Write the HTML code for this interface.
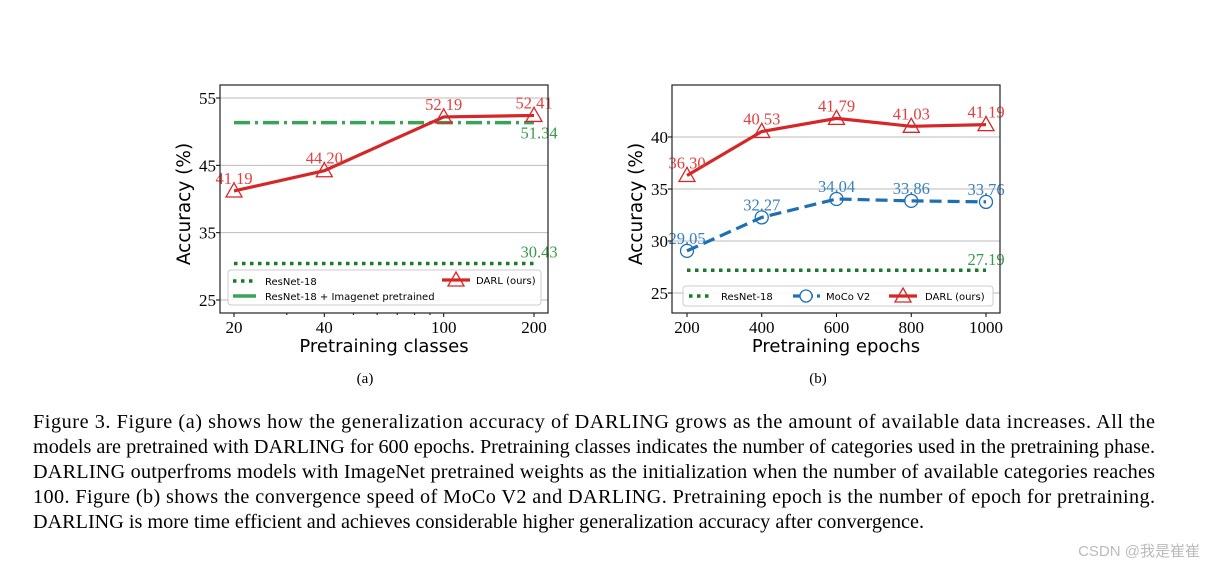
<!DOCTYPE html>
<html><head><meta charset="utf-8"><style>
body{margin:0;background:#fff;width:1214px;height:567px;overflow:hidden}
svg{display:block}
</style></head><body>
<svg id="s" width="1214" height="567" xmlns="http://www.w3.org/2000/svg" font-family="Liberation Serif, serif">
<g id="ca"></g>
<g id="cb"></g>
<text x="365" y="383" font-size="15" text-anchor="middle">(a)</text>
<text x="818" y="383" font-size="15" text-anchor="middle">(b)</text>
<g font-size="20.2">
<text x="33" y="428" textLength="1122" lengthAdjust="spacing">Figure 3.  Figure (a) shows how the generalization accuracy of DARLING grows as the amount of available data increases.  All the</text>
<text x="33" y="453" textLength="1122" lengthAdjust="spacing">models are pretrained with DARLING for 600 epochs. Pretraining classes indicates the number of categories used in the pretraining phase.</text>
<text x="33" y="478" textLength="1122" lengthAdjust="spacing">DARLING outperfroms models with ImageNet pretrained weights as the initialization when the number of available categories reaches</text>
<text x="33" y="503" textLength="1122" lengthAdjust="spacing">100.  Figure (b) shows the convergence speed of MoCo V2 and DARLING. Pretraining epoch is the number of epoch for pretraining.</text>
<text x="33" y="528">DARLING is more time efficient and achieves considerable higher generalization accuracy after convergence.</text>
</g>
<text x="1200" y="556" font-size="15" fill="#bbb" text-anchor="end" font-family="Liberation Sans, Noto Sans CJK SC, sans-serif">CSDN @我是崔崔</text>
</svg>
<script>
// Chart A data
const aClasses=[20,40,100,200];
const aDarl=[41.19,44.20,52.19,52.41];
const aResnet=30.43;
const aImagenet=51.34;
const aTicksY=[25,35,45,55];
// Chart B data
const bEpochs=[200,400,600,800,1000];
const bDarl=[36.30,40.53,41.79,41.03,41.19];
const bMoco=[29.05,32.27,34.04,33.86,33.76];
const bResnet=27.19;
const bTicksY=[25,30,35,40];

const NS='http://www.w3.org/2000/svg';
function mk(p,t,a){const e=document.createElementNS(NS,t);for(const k in a)e.setAttribute(k,a[k]);p.appendChild(e);return e;}
function txt(p,x,y,s,a){const e=mk(p,'text',Object.assign({x:x,y:y},a));e.textContent=s;return e;}
const RED='#d62728',GREEN='#2ca02c',DG='#1a7a2a',BLUE='#1f6fb4';
const LBL=16.5;
function tri(g,x,y){return mk(g,'path',{d:`M${x},${y-8} L${x+8},${y+6} L${x-8},${y+6} Z`,fill:'none',stroke:RED,'stroke-width':1.3});}

// ---------- Chart A ----------
(function(){
const g=document.getElementById('ca');
const L=220,R=548,T=85,B=313;
const y=v=>300-(v-25)*(300-98)/30;
const x=v=>234+(Math.log10(v)-Math.log10(20))*300;
aTicksY.forEach(t=>{
 const gl=mk(g,'line',{x1:L,x2:R,y1:y(t),y2:y(t),stroke:'#bbb','stroke-width':1});
 
 const tl=txt(g,L-4,y(t)+6,t,{'font-size':17,'text-anchor':'end'});
 
 mk(g,'line',{x1:L-4,x2:L,y1:y(t),y2:y(t),stroke:'#000'});
});
[30,50,60,70,80,90].forEach(v=>mk(g,'line',{x1:x(v),x2:x(v),y1:B,y2:B+2,stroke:'#000'}));
aClasses.forEach(c=>{
 mk(g,'line',{x1:x(c),x2:x(c),y1:B,y2:B+4,stroke:'#000'});
 const tl=txt(g,x(c),B+20,c,{'font-size':17,'text-anchor':'middle'});
 
});
const rl=mk(g,'line',{x1:x(20),x2:x(200),y1:y(aResnet),y2:y(aResnet),stroke:DG,'stroke-width':3.5,'stroke-dasharray':'3.5 4.5'});

txt(g,x(200)+5,y(aResnet)-6,aResnet.toFixed(2),{'font-size':LBL,fill:'#3a9a4a','text-anchor':'middle'});
const il=mk(g,'line',{x1:x(20),x2:x(200),y1:y(aImagenet),y2:y(aImagenet),stroke:'#3aa35a','stroke-width':3.5,'stroke-dasharray':'16 5 3 5'});

txt(g,x(200)+5,y(aImagenet)+16,aImagenet.toFixed(2),{'font-size':LBL,fill:'#3a9a4a','text-anchor':'middle'});
const dl=mk(g,'polyline',{points:aClasses.map((c,i)=>x(c)+','+y(aDarl[i])).join(' '),fill:'none',stroke:RED,'stroke-width':3.2});

aClasses.forEach((c,i)=>{const m=tri(g,x(c),y(aDarl[i]));
 txt(g,x(c),y(aDarl[i])-7,aDarl[i].toFixed(2),{'font-size':LBL,fill:'#e04040','text-anchor':'middle'});});
mk(g,'rect',{x:L,y:T,width:R-L,height:B-T,fill:'none',stroke:'#222','stroke-width':1.2});
const lg=mk(g,'g',{});
mk(lg,'rect',{x:228,y:270,width:313,height:35,rx:3,fill:'rgba(255,255,255,0.85)',stroke:'#ccc'});
mk(lg,'line',{x1:233,x2:256,y1:281,y2:281,stroke:DG,'stroke-width':3.5,'stroke-dasharray':'3.5 4.5'});
txt(lg,265,285,'ResNet-18',{'font-size':10,'font-family':'DejaVu Sans, sans-serif'});
mk(lg,'line',{x1:233,x2:256,y1:296,y2:296,stroke:'#3aa35a','stroke-width':3.5});
txt(lg,265,300,'ResNet-18 + Imagenet pretrained',{'font-size':10,'font-family':'DejaVu Sans, sans-serif'});
mk(lg,'line',{x1:442,x2:470,y1:280,y2:280,stroke:RED,'stroke-width':3.2});
tri(lg,456,280);
txt(lg,476,284,'DARL (ours)',{'font-size':10,'font-family':'DejaVu Sans, sans-serif'});
const yt=txt(g,0,0,'Accuracy (%)',{'font-size':18.5,'text-anchor':'middle','font-family':'DejaVu Sans, sans-serif',transform:`translate(190,${(T+B)/2+5}) rotate(-90)`});

const xt=txt(g,(L+R)/2,352,'Pretraining classes',{'font-size':18,'text-anchor':'middle','font-family':'DejaVu Sans, sans-serif'});

})();

// ---------- Chart B ----------
(function(){
const g=document.getElementById('cb');
const L=672,R=1000,T=85,B=313;
const y=v=>293-(v-25)*(293-137)/15;
const x=v=>687+(v-200)*(986-687)/800;
bTicksY.forEach(t=>{
 const gl=mk(g,'line',{x1:L,x2:R,y1:y(t),y2:y(t),stroke:'#bbb','stroke-width':1});
 
 const tl=txt(g,L-4,y(t)+6,t,{'font-size':17,'text-anchor':'end'});
 
 mk(g,'line',{x1:L-4,x2:L,y1:y(t),y2:y(t),stroke:'#000'});
});
bEpochs.forEach(c=>{
 mk(g,'line',{x1:x(c),x2:x(c),y1:B,y2:B+4,stroke:'#000'});
 const tl=txt(g,x(c),B+20,c,{'font-size':17,'text-anchor':'middle'});
 
});
const rl=mk(g,'line',{x1:x(200),x2:x(1000),y1:y(bResnet),y2:y(bResnet),stroke:DG,'stroke-width':3.5,'stroke-dasharray':'3.5 4.5'});

txt(g,x(1000),y(bResnet)-5,bResnet.toFixed(2),{'font-size':LBL,fill:'#3a9a4a','text-anchor':'middle'});
const ml=mk(g,'polyline',{points:bEpochs.map((c,i)=>x(c)+','+y(bMoco[i])).join(' '),fill:'none',stroke:BLUE,'stroke-width':3.2,'stroke-dasharray':'12 6'});

bEpochs.forEach((c,i)=>{const m=mk(g,'circle',{cx:x(c),cy:y(bMoco[i]),r:6.5,fill:'none',stroke:BLUE,'stroke-width':1.3});
 
 txt(g,x(c),y(bMoco[i])-7,bMoco[i].toFixed(2),{'font-size':LBL,fill:'#3a7fc0','text-anchor':'middle'});});
const dl=mk(g,'polyline',{points:bEpochs.map((c,i)=>x(c)+','+y(bDarl[i])).join(' '),fill:'none',stroke:RED,'stroke-width':3.2});

bEpochs.forEach((c,i)=>{const m=tri(g,x(c),y(bDarl[i]));
 txt(g,x(c),y(bDarl[i])-7,bDarl[i].toFixed(2),{'font-size':LBL,fill:'#e04040','text-anchor':'middle'});});
mk(g,'rect',{x:L,y:T,width:R-L,height:B-T,fill:'none',stroke:'#222','stroke-width':1.2});
const lg=mk(g,'g',{});
mk(lg,'rect',{x:683,y:286,width:310,height:20,rx:3,fill:'rgba(255,255,255,0.85)',stroke:'#ccc'});
mk(lg,'line',{x1:689,x2:712,y1:296,y2:296,stroke:DG,'stroke-width':3.5,'stroke-dasharray':'3.5 4.5'});
txt(lg,721,300,'ResNet-18',{'font-size':10,'font-family':'DejaVu Sans, sans-serif'});
mk(lg,'line',{x1:793,x2:820,y1:296,y2:296,stroke:BLUE,'stroke-width':3.2,'stroke-dasharray':'8 4'});
mk(lg,'circle',{cx:806,cy:296,r:6,fill:'#fff',stroke:BLUE,'stroke-width':1.3});
txt(lg,826,300,'MoCo V2',{'font-size':10,'font-family':'DejaVu Sans, sans-serif'});
mk(lg,'line',{x1:889,x2:917,y1:296,y2:296,stroke:RED,'stroke-width':3.2});
tri(lg,903,296);
txt(lg,925,300,'DARL (ours)',{'font-size':10,'font-family':'DejaVu Sans, sans-serif'});
const yt=txt(g,0,0,'Accuracy (%)',{'font-size':18.5,'text-anchor':'middle','font-family':'DejaVu Sans, sans-serif',transform:`translate(642,${(T+B)/2+5}) rotate(-90)`});

const xt=txt(g,(L+R)/2,352,'Pretraining epochs',{'font-size':18,'text-anchor':'middle','font-family':'DejaVu Sans, sans-serif'});

})();
</script>
</body></html>
